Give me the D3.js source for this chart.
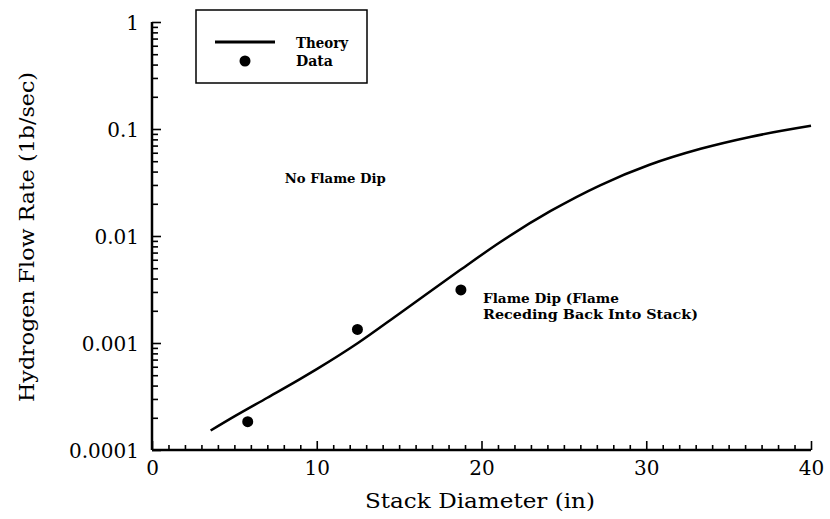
<!DOCTYPE html>
<html>
<head>
<meta charset="utf-8">
<script src="https://cdn.jsdelivr.net/npm/d3@7"></script>
<style>
  html, body { margin: 0; padding: 0; background: #fff; }
  svg { display: block; }
  text { font-family: "DejaVu Serif", "Liberation Serif", serif; fill: #000; }
</style>
</head>
<body>
<svg id="chart" width="830" height="519"></svg>
<script>
// ---- data ----
const theoryX = [3.56, 5, 7, 8.98, 10, 12.5, 15.05, 18.7, 21.1, 24.2, 27.2, 30.2, 33.3, 36.3, 40];
const theoryY = [1.52e-4, 2.06e-4, 3.08e-4, 4.6e-4, 5.7e-4, 1.0e-3, 1.9e-3, 4.8e-3, 8.7e-3, 0.01714, 0.0298, 0.0463, 0.0653, 0.0843, 0.107];
const dataX = [5.81, 12.47, 18.75];
const dataY = [1.84e-4, 1.34e-3, 3.13e-3];
const xMajorTicks = [0, 10, 20, 30, 40];
const yMajorTicks = [1e-4, 1e-3, 1e-2, 1e-1, 1];
const yTickLabels = ["0.0001", "0.001", "0.01", "0.1", "1"];
const xTitle = "Stack Diameter (in)";
const yTitle = "Hydrogen Flow Rate (1b/sec)";
const legendLabels = ["Theory", "Data"];
const annotations = [
  { x: 8.06, y: 0.031, lines: ["No Flame Dip"] },
  { x: 20.09, y: 0.00236, lines: ["Flame Dip (Flame", "Receding Back Into Stack)"] }
];

// ---- layout ----
const svg = d3.select("#chart");
const x = d3.scaleLinear().domain([0, 40]).range([152, 811]);
const y = d3.scaleLog().domain([1e-4, 1]).range([450, 22]);

const xMinor = d3.range(0, 41, 1).filter(v => !xMajorTicks.includes(v));
const yMinor = [];
for (let e = -4; e < 0; e++) for (let m = 2; m <= 9; m++) yMinor.push(m * Math.pow(10, e));

// x axis minor ticks
svg.append("g").attr("transform", "translate(0,450)")
  .call(d3.axisBottom(x).tickValues(xMinor).tickSize(-5).tickFormat(""))
  .call(g => g.select(".domain").remove())
  .call(g => g.selectAll("line").attr("stroke", "#000").attr("stroke-width", 1.6));
// x axis major
const gx = svg.append("g").attr("transform", "translate(0,450)")
  .call(d3.axisBottom(x).tickValues(xMajorTicks).tickSize(-9).tickSizeOuter(0).tickPadding(0).tickFormat(d3.format("d")));
gx.select(".domain").attr("stroke", "#000").attr("stroke-width", 2.5).attr("d", "M152,0H811");
gx.selectAll("line").attr("stroke", "#000").attr("stroke-width", 1.6);
gx.selectAll("text").attr("y", 25).attr("dy", null).style("font-size", "20px").style("font-family", "DejaVu Serif");

// y axis minor
svg.append("g").attr("transform", "translate(152,0)")
  .call(d3.axisLeft(y).tickValues(yMinor).tickSize(-6).tickFormat(""))
  .call(g => g.select(".domain").remove())
  .call(g => g.selectAll("line").attr("stroke", "#000").attr("stroke-width", 1.6));
// y axis major
const gy = svg.append("g").attr("transform", "translate(152,0)")
  .call(d3.axisLeft(y).tickValues(yMajorTicks).tickSize(-9).tickSizeOuter(0).tickPadding(0)
    .tickFormat((d, i) => yTickLabels[i]));
gy.select(".domain").attr("stroke", "#000").attr("stroke-width", 2.5).attr("d", "M0,450V22");
gy.selectAll("line").attr("stroke", "#000").attr("stroke-width", 1.6);
gy.selectAll("text").attr("x", -13).attr("dy", "0.36em").style("font-size", "20px").style("font-family", "DejaVu Serif");

// titles
svg.append("text").attr("x", 480).attr("y", 508).attr("text-anchor", "middle")
  .style("font-size", "21px").attr("textLength", 230).attr("lengthAdjust", "spacingAndGlyphs").text(xTitle);
svg.append("text").attr("transform", "translate(34,237) rotate(-90)").attr("text-anchor", "middle")
  .style("font-size", "21px").attr("textLength", 330).attr("lengthAdjust", "spacingAndGlyphs").text(yTitle);

// theory curve
const theory = theoryX.map((v, i) => [v, theoryY[i]]);
svg.append("path").datum(theory)
  .attr("fill", "none").attr("stroke", "#000").attr("stroke-width", 2.5)
  .attr("d", d3.line().x(d => x(d[0])).y(d => y(d[1])).curve(d3.curveMonotoneX));

// data points
svg.append("g").selectAll("circle").data(dataX.map((v, i) => [v, dataY[i]])).join("circle")
  .attr("cx", d => x(d[0])).attr("cy", d => y(d[1])).attr("r", 5.5).attr("fill", "#000");

// legend
const lg = svg.append("g");
lg.append("rect").attr("x", 196).attr("y", 10).attr("width", 171).attr("height", 73)
  .attr("fill", "#fff").attr("stroke", "#000").attr("stroke-width", 1.5);
lg.append("line").attr("x1", 215).attr("x2", 275).attr("y1", 42).attr("y2", 42)
  .attr("stroke", "#000").attr("stroke-width", 2.8);
lg.append("circle").attr("cx", 245).attr("cy", 61).attr("r", 5.5).attr("fill", "#000");
lg.append("text").attr("x", 296).attr("y", 48).style("font-size", "15px").style("font-weight", "bold")
  .attr("textLength", 52).attr("lengthAdjust", "spacingAndGlyphs").text(legendLabels[0]);
lg.append("text").attr("x", 296).attr("y", 66).style("font-size", "15px").style("font-weight", "bold")
  .attr("textLength", 37).attr("lengthAdjust", "spacingAndGlyphs").text(legendLabels[1]);

// annotations
const annWidths = [[101], [136, 215]];
annotations.forEach((a, ai) => {
  a.lines.forEach((l, li) => {
    svg.append("text").attr("x", x(a.x)).attr("y", y(a.y) + li * 15.5)
      .style("font-size", ai === 0 ? "13.5px" : "13px").style("font-weight", "bold")
      .attr("textLength", annWidths[ai][li]).attr("lengthAdjust", "spacingAndGlyphs").text(l);
  });
});
</script>
</body>
</html>
